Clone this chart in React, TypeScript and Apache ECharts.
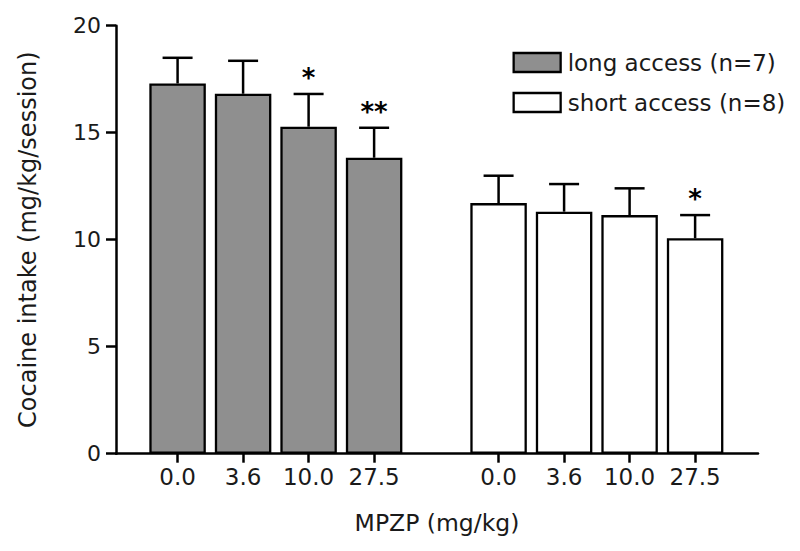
import React, { useEffect, useRef } from "react";
import * as echarts from "echarts";

const doses = ["0.0", "3.6", "10.0", "27.5"];
const longMeans = [17.3, 16.82, 15.28, 13.83];
const longSem = [1.2, 1.54, 1.53, 1.4];
const longStars = ["", "", "*", "**"];
const shortMeans = [11.71, 11.31, 11.15, 10.07];
const shortSem = [1.28, 1.29, 1.25, 1.08];
const shortStars = ["", "", "", "*"];
const seriesNames = ["long access (n=7)", "short access (n=8)"];
const yTicks = [0, 5, 10, 15, 20];

const FONT = "DejaVu Sans";
const TEXT = "#1a1a1a";
const GROUP_STRIDE = 4.9;

export default function App() {
  const ref = useRef<HTMLDivElement>(null);
  useEffect(() => {
    if (!ref.current) return;
    const chart = echarts.init(ref.current, null, { renderer: "svg" });
    const pos = (g: number, i: number) => +(i + 1 + g * GROUP_STRIDE).toFixed(3);
    const positions: number[] = [];
    const labels: string[] = [];
    [0, 1].forEach((g) => doses.forEach((d, i) => { positions.push(pos(g, i)); labels.push(d); }));

    const longData = longMeans.map((v, i) => [pos(0, i), v]);
    const shortData = shortMeans.map((v, i) => [pos(1, i), v]);
    const errRows: any[] = [];
    const stars: string[] = [];
    longMeans.forEach((v, i) => { errRows.push([pos(0, i), v, v + longSem[i]]); stars.push(longStars[i]); });
    shortMeans.forEach((v, i) => { errRows.push([pos(1, i), v, v + shortSem[i]]); stars.push(shortStars[i]); });

    const barStyle = (fill: string) => ({ color: fill, borderColor: "#000", borderWidth: 2.3 });

    chart.setOption({
      animation: false,
      backgroundColor: "#fff",
      grid: { left: 116, right: 42, top: 25.7, bottom: 97.3, containLabel: false },
      legend: {
        orient: "vertical",
        left: 507.5,
        top: 46,
        icon: "rect",
        itemWidth: 47,
        itemHeight: 19,
        itemGap: 17,
        textStyle: { fontFamily: FONT, fontSize: 23, color: TEXT, padding: [0, 0, 0, 2] },
        data: [
          { name: seriesNames[0], itemStyle: barStyle("#8f8f8f") },
          { name: seriesNames[1], itemStyle: barStyle("#ffffff") },
        ],
      },
      xAxis: {
        type: "value",
        min: 0.06,
        max: 9.86,
        splitLine: { show: false },
        axisLine: { show: true, onZero: false, lineStyle: { color: "#000", width: 2.5 } },
        axisTick: { show: true, customValues: positions, length: 9, lineStyle: { color: "#000", width: 2.5 } },
        axisLabel: {
          customValues: positions,
          margin: 12,
          fontFamily: FONT,
          fontSize: 23,
          color: TEXT,
          formatter: (v: number) => {
            const k = positions.findIndex((p) => Math.abs(p - v) < 1e-6);
            return k >= 0 ? labels[k] : "";
          },
        },
        name: "MPZP (mg/kg)",
        nameLocation: "middle",
        nameGap: 57,
        nameTextStyle: { fontFamily: FONT, fontSize: 23.5, color: TEXT, verticalAlign: "top" },
      },
      yAxis: {
        type: "value",
        min: 0,
        max: 20,
        interval: 5,
        splitLine: { show: false },
        axisLine: { show: true, lineStyle: { color: "#000", width: 2.5 } },
        axisTick: { show: true, length: 10, lineStyle: { color: "#000", width: 2.5 } },
        axisLabel: {
          margin: 15,
          fontFamily: FONT,
          fontSize: 22,
          color: TEXT,
          formatter: (v: number) => (yTicks.includes(v) ? String(v) : ""),
        },
        name: "Cocaine intake (mg/kg/session)",
        nameLocation: "middle",
        nameGap: 76,
        nameTextStyle: { fontFamily: FONT, fontSize: 24, color: TEXT },
      },
      series: [
        {
          name: seriesNames[0],
          type: "bar",
          data: longData,
          barWidth: 56.5,
          barGap: "-100%",
          itemStyle: barStyle("#8f8f8f"),
          z: 2,
        },
        {
          name: seriesNames[1],
          type: "bar",
          data: shortData,
          barWidth: 56.5,
          barGap: "-100%",
          itemStyle: barStyle("#ffffff"),
          z: 2,
        },
        {
          type: "custom",
          data: errRows,
          encode: { x: 0, y: [1, 2] },
          z: 3,
          renderItem: (params: any, api: any) => {
            const x = api.value(0);
            const m = api.coord([x, api.value(1)]);
            const t = api.coord([x, api.value(2)]);
            const star = stars[params.dataIndex];
            const children: any[] = [
              { type: "line", shape: { x1: m[0], y1: m[1], x2: t[0], y2: t[1] }, style: { stroke: "#000", lineWidth: 2.5 } },
              { type: "line", shape: { x1: t[0] - 15, y1: t[1], x2: t[0] + 15, y2: t[1] }, style: { stroke: "#000", lineWidth: 2.5 } },
            ];
            if (star) {
              children.push({
                type: "text",
                x: t[0],
                y: t[1] - 3,
                style: { text: star, fontFamily: FONT, fontSize: 26, fontWeight: "bold", fill: "#000", align: "center", verticalAlign: "bottom" },
              });
            }
            return { type: "group", children };
          },
        },
      ],
    });
    return () => chart.dispose();
  }, []);
  return <div ref={ref} style={{ width: 800, height: 551, position: "absolute", left: 0, top: 0 }} />;
}
